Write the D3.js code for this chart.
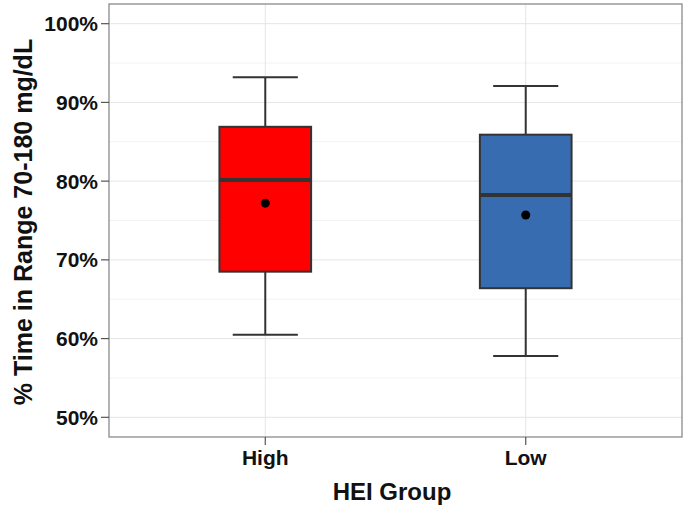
<!DOCTYPE html>
<html><head><meta charset="utf-8">
<script src="https://cdn.jsdelivr.net/npm/d3@7"></script>
<style>body{margin:0;background:#fff}svg{display:block;font-family:"Liberation Sans",Arial,sans-serif}</style>
</head><body><svg id="c" width="688" height="513"></svg>
<script>
const groups = ["High", "Low"];
const whiskerLow = [60.5, 57.8];
const q1 = [68.5, 66.4];
const median = [80.15, 78.25];
const q3 = [86.9, 85.9];
const whiskerHigh = [93.2, 92.1];
const means = [77.2, 75.7];
const fills = ["#FF0000", "#386CB0"];
const yTicks = [50, 60, 70, 80, 90, 100];
const yMinor = [55, 65, 75, 85, 95];

const svg = d3.select("#c");
const L = 109, R = 682, T = 4, B = 437;
const y = d3.scaleLinear().domain([47.5, 102.5]).range([B, T]);
const x = d3.scaleLinear().domain([0.4, 2.6]).range([L, R]);
const xc = i => x(i + 1);

// grid
svg.append("g").selectAll("line").data(yMinor).join("line")
  .attr("x1", L).attr("x2", R).attr("y1", d => y(d)).attr("y2", d => y(d))
  .attr("stroke", "#f2f2f2").attr("stroke-width", 1);
svg.append("g").selectAll("line").data(yTicks).join("line")
  .attr("x1", L).attr("x2", R).attr("y1", d => y(d)).attr("y2", d => y(d))
  .attr("stroke", "#e5e5e5").attr("stroke-width", 1);
svg.append("g").selectAll("line").data(groups).join("line")
  .attr("x1", (d, i) => xc(i)).attr("x2", (d, i) => xc(i)).attr("y1", T).attr("y2", B)
  .attr("stroke", "#e5e5e5").attr("stroke-width", 1);

// boxes
const bw = 0.352, cw = 0.25;
const g = svg.append("g");
groups.forEach((grp, i) => {
  const cx = xc(i);
  const hw = (x(1 + bw / 2) - x(1));
  const hc = (x(1 + cw / 2) - x(1));
  g.append("line").attr("x1", cx).attr("x2", cx).attr("y1", y(whiskerHigh[i])).attr("y2", y(q3[i]))
    .attr("stroke", "#333").attr("stroke-width", 2);
  g.append("line").attr("x1", cx).attr("x2", cx).attr("y1", y(q1[i])).attr("y2", y(whiskerLow[i]))
    .attr("stroke", "#333").attr("stroke-width", 2);
  g.append("line").attr("x1", cx - hc).attr("x2", cx + hc).attr("y1", y(whiskerHigh[i])).attr("y2", y(whiskerHigh[i]))
    .attr("stroke", "#333").attr("stroke-width", 2);
  g.append("line").attr("x1", cx - hc).attr("x2", cx + hc).attr("y1", y(whiskerLow[i])).attr("y2", y(whiskerLow[i]))
    .attr("stroke", "#333").attr("stroke-width", 2);
  g.append("rect").attr("x", cx - hw).attr("width", 2 * hw).attr("y", y(q3[i])).attr("height", y(q1[i]) - y(q3[i]))
    .attr("fill", fills[i]).attr("stroke", "#333").attr("stroke-width", 2);
  g.append("line").attr("x1", cx - hw).attr("x2", cx + hw).attr("y1", y(median[i])).attr("y2", y(median[i]))
    .attr("stroke", "#333").attr("stroke-width", 4);
  g.append("circle").attr("cx", cx).attr("cy", y(means[i])).attr("r", 4.5).attr("fill", "#000");
});

// panel border
svg.append("rect").attr("x", L).attr("y", T).attr("width", R - L).attr("height", B - T)
  .attr("fill", "none").attr("stroke", "#8a8a8a").attr("stroke-width", 1.3);

// y axis ticks
const ya = svg.append("g");
ya.selectAll("line").data(yTicks).join("line")
  .attr("x1", L - 8).attr("x2", L).attr("y1", d => y(d)).attr("y2", d => y(d))
  .attr("stroke", "#555").attr("stroke-width", 1.2);
ya.selectAll("text").data(yTicks).join("text")
  .attr("x", L - 11).attr("y", d => y(d)).attr("dy", "0.36em").attr("text-anchor", "end")
  .attr("font-size", 21).attr("font-weight", "bold").attr("fill", "#111")
  .text(d => d + "%");

// x axis ticks
const xa = svg.append("g");
xa.selectAll("line").data(groups).join("line")
  .attr("x1", (d, i) => xc(i)).attr("x2", (d, i) => xc(i)).attr("y1", B).attr("y2", B + 8)
  .attr("stroke", "#555").attr("stroke-width", 1.2);
xa.selectAll("text").data(groups).join("text")
  .attr("x", (d, i) => xc(i)).attr("y", 465).attr("text-anchor", "middle")
  .attr("font-size", 21).attr("font-weight", "bold").attr("fill", "#111")
  .text(d => d);

// titles
svg.append("text").attr("x", 392).attr("y", 500).attr("text-anchor", "middle")
  .attr("font-size", 24).attr("font-weight", "bold").attr("fill", "#111").text("HEI Group");
svg.append("text").attr("transform", `translate(32,222) rotate(-90)`).attr("text-anchor", "middle")
  .attr("font-size", 25).attr("font-weight", "bold").attr("fill", "#111").text("% Time in Range 70-180 mg/dL");
</script></body></html>
